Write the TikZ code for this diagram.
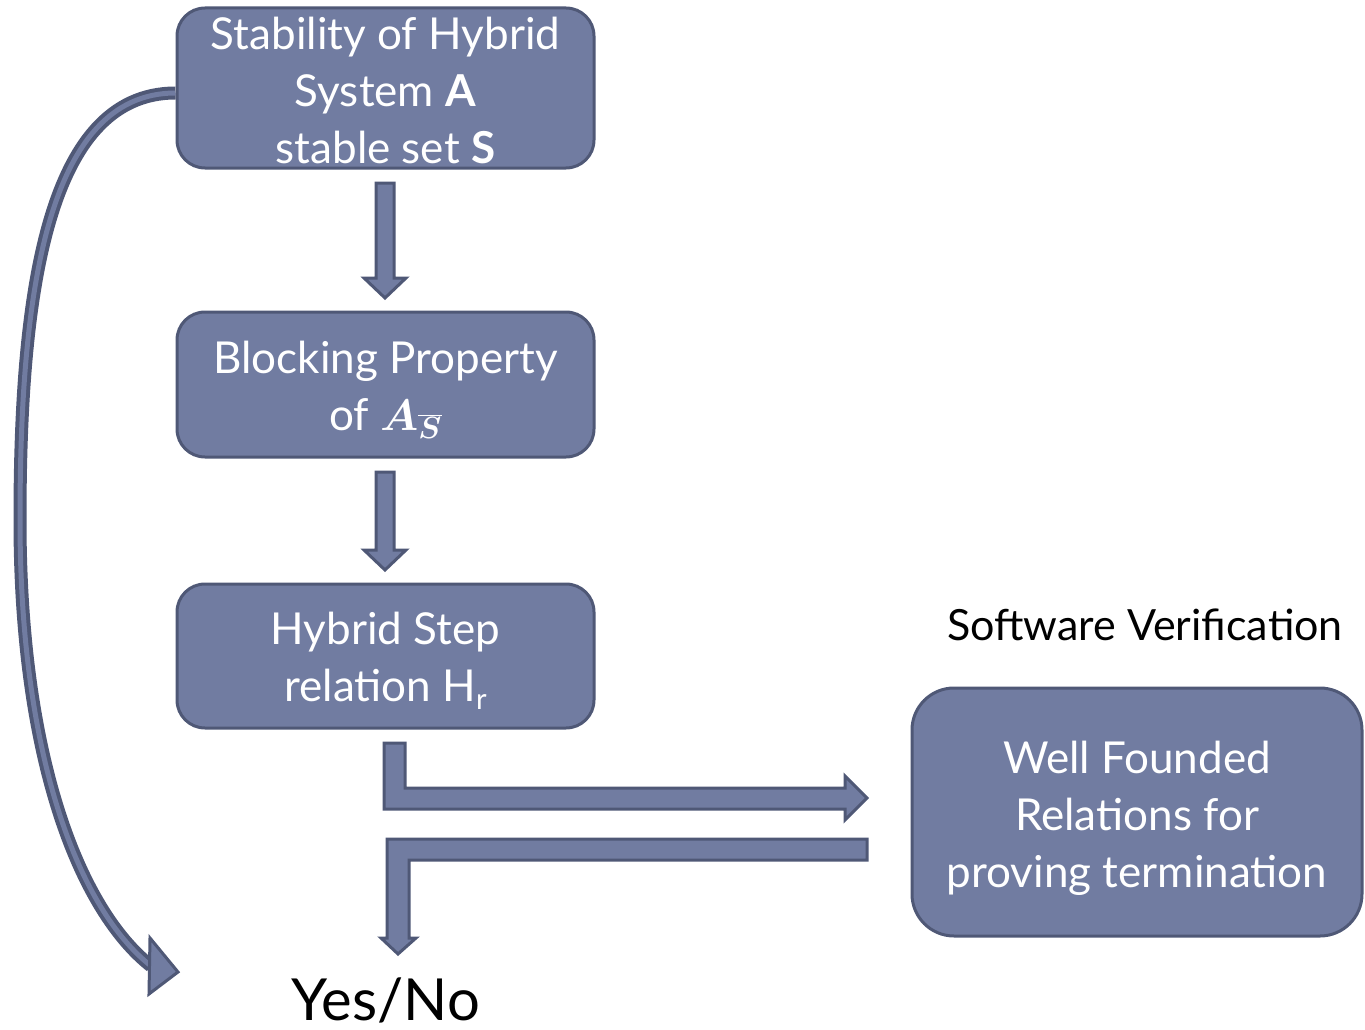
\documentclass[tikz,border=0pt]{standalone}
\usepackage{fix-cm}
\usepackage{bm}
\usepackage{fontspec}
\setmainfont{Lato}
\usetikzlibrary{calc}
\definecolor{boxfill}{RGB}{113,124,161}
\definecolor{boxline}{RGB}{79,88,118}
\tikzset{
  stagebox/.style={draw=boxline, fill=boxfill, line width=3pt, rounded corners=28pt, inner sep=0pt},
  boxtext/.style={text=white, align=center, font=\fontsize{44}{57}\selectfont, inner sep=0pt},
  blockarrow/.style={draw=boxline, fill=boxfill, line width=3pt, line join=miter},
  plainlabel/.style={text=black, inner sep=0pt}
}
\begin{document}
\begin{tikzpicture}[x=1pt,y=-1pt]
\useasboundingbox (0,0) rectangle (1365,1030);

% stage boxes
\node[stagebox, minimum width=417pt, minimum height=160pt] (stab) at (385.5,88) {};
\node[stagebox, minimum width=417pt, minimum height=145pt] (block) at (385.5,384.5) {};
\node[stagebox, minimum width=417pt, minimum height=144pt] (hstep) at (385.5,656) {};
\node[stagebox, rounded corners=42pt, minimum width=450pt, minimum height=248pt] (wf) at (1137,812) {};

% box contents
\node[boxtext] (stabtxt) at ($(stab)+(0,2)$)
  {Stability of Hybrid\\System \textbf{A}\\stable set \textbf{S}};
\node[boxtext] (blocktxt) at ($(block)+(0,5)$)
  {Blocking Property\\of $\bm{A}_{\bm{\overline{S}}}$};
\node[boxtext] (hsteptxt) at ($(hstep)+(0,5)$)
  {Hybrid Step\\relation H\raisebox{-0.35ex}{\fontsize{29}{29}\selectfont r}};
\node[boxtext] (wftxt) at ($(wf)+(0,6)$)
  {Well Founded\\Relations for\\proving termination};

% labels
\node[plainlabel, font=\fontsize{43}{48}\selectfont] (sv) at (1145,625) {Software Verification};
\node[plainlabel, font=\fontsize{58}{62}\selectfont] (yn) at (386,1000) {Yes/No};

% straight block arrows between the stages
\draw[blockarrow] (376,183) -- (394,183) -- (394,278) -- (406,278) -- (385,298)
  -- (364,278) -- (376,278) -- cycle;
\draw[blockarrow] (376,472) -- (394,472) -- (394,550) -- (406,550) -- (385,570)
  -- (364,550) -- (376,550) -- cycle;

% bent arrow out to the verification box
\draw[blockarrow] (384,743) -- (405,743) -- (405,788) -- (845,788) -- (845,776)
  -- (867,798) -- (845,820) -- (845,809) -- (384,809) -- cycle;

% bent arrow back down to the answer
\draw[blockarrow] (867,839) -- (867,860) -- (409,860) -- (409,938) -- (416,938)
  -- (398,954) -- (381,938) -- (387,938) -- (387,839) -- cycle;

% direct curved path from the stability box to the answer
\coordinate (cstart) at ($(stab.west)+(0,5)$);
\coordinate (cend) at (151,966);
\draw[draw=boxline, line width=4pt, double=boxfill, double distance=5pt]
  (cstart) .. controls (45,93) and (20,300) .. (20,520)
  .. controls (20,760) and (80,910) .. (cend);
\draw[blockarrow, line width=3pt] (150,938) -- (178,972) -- (149,994) -- cycle;
\end{tikzpicture}
\end{document}
